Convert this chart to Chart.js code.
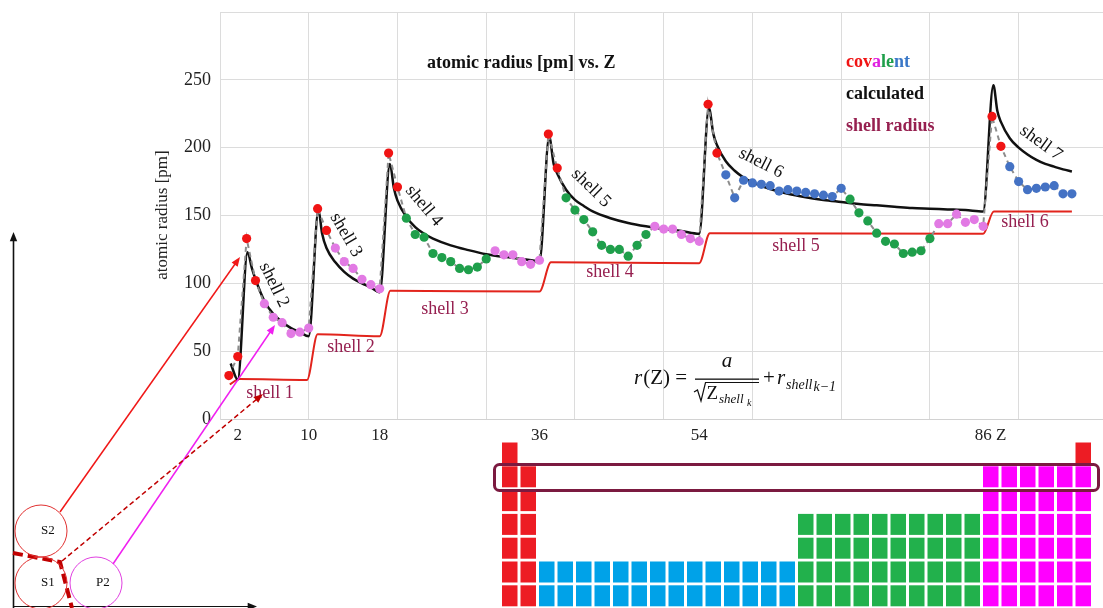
<!DOCTYPE html>
<html>
<head>
<meta charset="utf-8">
<title>atomic radius [pm] vs. Z</title>
<script src="https://cdn.jsdelivr.net/npm/chart.js@4.4.0/dist/chart.umd.min.js"></script>
<style>
  html, body { margin: 0; padding: 0; background: #fff; overflow: hidden; }
  #wrap { position: relative; width: 1103px; height: 608px; overflow: hidden; }
</style>
</head>
<body>
<div id="wrap"><canvas id="radiusChart" width="1108" height="608"></canvas></div>
<script>
// Elements in order of atomic number Z = 1..96
const elements = ['H','He','Li','Be','B','C','N','O','F','Ne','Na','Mg','Al','Si','P','S','Cl','Ar',
  'K','Ca','Sc','Ti','V','Cr','Mn','Fe','Co','Ni','Cu','Zn','Ga','Ge','As','Se','Br','Kr',
  'Rb','Sr','Y','Zr','Nb','Mo','Tc','Ru','Rh','Pd','Ag','Cd','In','Sn','Sb','Te','I','Xe',
  'Cs','Ba','La','Ce','Pr','Nd','Pm','Sm','Eu','Gd','Tb','Dy','Ho','Er','Tm','Yb','Lu','Hf','Ta','W','Re','Os','Ir','Pt','Au','Hg','Tl','Pb','Bi','Po','At','Rn',
  'Fr','Ra','Ac','Th','Pa','U','Np','Pu','Am','Cm'];

// Covalent radius [pm] of each element
const covalentRadius = [32, 46,
  133, 102, 85, 75, 71, 63, 64, 67,
  155, 139, 126, 116, 111, 103, 99, 96,
  196, 171, 148, 136, 134, 122, 119, 116, 111, 110, 112, 118, 124, 121, 121, 116, 114, 117,
  210, 185, 163, 154, 147, 138, 128, 125, 125, 120, 128, 136, 142, 140, 140, 136, 133, 131,
  232, 196, 180, 163, 176, 174, 173, 172, 168, 169, 168, 167, 166, 165, 164, 170,
  162, 152, 146, 137, 131, 129, 122, 123, 124, 133, 144, 144, 151, 145, 147, 142,
  223, 201, 186, 175, 169, 170, 171, 172, 166, 166];

// Block (s, p, d, f) of each element, one string per period
const blockLayout = ['ss', 'sspppppp', 'sspppppp', 'ssddddddddddpppppp', 'ssddddddddddpppppp',
  'ssffffffffffffffddddddddddpppppp', 'ssffffffff'];

// Calculated curve r(Z) (black line)
const calcZ = [1.2, 2, 3.1, 3.6, 4, 5, 6, 7, 8, 9, 10,
  11.1, 11.5, 12, 13, 14, 15, 16, 17, 18,
  19.15, 19.6, 20, 21, 22, 23, 24, 26, 28, 30, 32, 34, 36,
  37.1, 37.6, 38, 39, 40, 41, 42, 44, 46, 48, 50, 52, 54,
  55.1, 55.6, 56, 57, 58, 59, 60, 62, 64, 66, 68, 70, 72, 74, 76, 78, 80, 82, 84, 86,
  87.15, 87.6, 88, 89, 90, 91, 92, 93, 94, 95, 96];
const calcRadius = [41, 29, 123, 111, 103, 87, 77.5, 71.5, 67, 64, 61,
  154, 137, 126, 115.5, 108.5, 103.5, 100, 97, 93.5,
  188, 170, 161, 149, 141.5, 136.5, 133, 128, 124.5, 121.5, 119.5, 118, 116.5,
  208, 188, 181, 169, 161.5, 157, 153, 148, 144.5, 142, 140, 138.5, 136.5,
  229, 210, 202, 190, 183, 178, 174.5, 169.5, 166, 163.5, 161.5, 160, 158.5, 157.5, 156.5, 155.5, 155, 154.5, 154, 153,
  246, 227, 219, 207, 200, 195, 191, 188, 186, 184, 182.5];

// Shell radius step line (red)
const shellZ = [1.1, 2.2, 9.8, 11, 18, 19.2, 36, 37.3, 54, 55.2, 86, 87.2, 96];
const shellRadius = [25.5, 29.5, 28.8, 62.5, 61, 94.5, 94, 115.5, 114.8, 137, 136.5, 153, 153];

// Tick labels under the plot
const xTickLabels = [2, 10, 18, 36, 54, 86];
const yTickStep = 50;

const blockColors = { s: '#f01414', p: '#e27ae4', d: '#1f9f4b', f: '#4472c4' };
const blocks = blockLayout.join('').split('');

const serif = '"Liberation Serif", "Times New Roman", serif';
const maroon = '#962050';

// Draws an arrow with a filled head
function arrow(c, x1, y1, x2, y2, color, width, dash) {
    const ang = Math.atan2(y2 - y1, x2 - x1);
    const hl = 10;
    c.strokeStyle = color;
    c.lineWidth = width;
    c.setLineDash(dash || []);
    c.beginPath();
    c.moveTo(x1, y1);
    c.lineTo(x2 - Math.cos(ang) * hl * 0.7, y2 - Math.sin(ang) * hl * 0.7);
    c.stroke();
    c.setLineDash([]);
    c.fillStyle = color;
    c.beginPath();
    c.moveTo(x2, y2);
    c.lineTo(x2 - hl * Math.cos(ang - 0.38), y2 - hl * Math.sin(ang - 0.38));
    c.lineTo(x2 - hl * Math.cos(ang + 0.38), y2 - hl * Math.sin(ang + 0.38));
    c.closePath();
    c.fill();
}

// Small periodic table picture below the plot
function drawPeriodicTable(c) {
    const red = '#ed1c24', blue = '#00a2e8', green = '#22b14c', magenta = '#ff00ff';
    const cell = (col, row, color) => {
        c.fillStyle = color;
        c.fillRect(502 + col * 18.5, 442.5 + (row - 1) * 23.8, 15.5, 21);
    };
    for (let r = 1; r <= 7; r++) cell(0, r, red);
    for (let r = 2; r <= 7; r++) cell(1, r, red);
    for (let col = 2; col < 16; col++) for (let r = 6; r <= 7; r++) cell(col, r, blue);
    for (let col = 16; col < 26; col++) for (let r = 4; r <= 7; r++) cell(col, r, green);
    for (let col = 26; col < 32; col++) for (let r = 2; r <= 7; r++) cell(col, r, magenta);
    cell(31, 1, red);

    // Frame around the second row
    c.strokeStyle = '#7b1a40';
    c.lineWidth = 3;
    c.beginPath();
    c.roundRect(494.5, 464.5, 604, 26, 5);
    c.stroke();
}

function drawFormula(c) {
    c.fillStyle = '#111';
    c.strokeStyle = '#111';
    c.textAlign = 'left';
    c.textBaseline = 'alphabetic';
    c.font = `italic 21px ${serif}`;
    c.fillText('r', 634, 384);
    const w = c.measureText('r').width;
    c.font = `21px ${serif}`;
    c.fillText('(Z) =', 634 + w + 1, 384);

    c.font = `italic 21px ${serif}`;
    c.textAlign = 'center';
    c.fillText('a', 727, 367);
    c.fillRect(695, 378.5, 64, 1.3);

    // radical sign
    c.lineWidth = 1.2;
    c.beginPath();
    c.moveTo(694, 392);
    c.lineTo(697.5, 390);
    c.lineTo(701, 401);
    c.lineTo(705.5, 382.5);
    c.lineTo(759, 382.5);
    c.stroke();

    c.textAlign = 'left';
    c.font = `19px ${serif}`;
    c.fillText('Z', 706.5, 399);
    c.font = `italic 13px ${serif}`;
    c.fillText('shell', 719, 403);
    c.font = `italic 10px ${serif}`;
    c.fillText('k', 747, 406);

    c.font = `21px ${serif}`;
    c.fillText('+', 763, 384);
    c.font = `italic 21px ${serif}`;
    c.fillText('r', 777, 384);
    c.font = `italic 14px ${serif}`;
    c.fillText('shell', 786, 389);
    const sw = c.measureText('shell').width;
    c.fillText('k\u22121', 786 + sw + 1, 391);
}

const decorations = {
    id: 'decorations',
    afterDraw(chart) {
        const c = chart.ctx;
        const xs = chart.scales.x;
        c.save();

        drawPeriodicTable(c);

        // x tick labels (aligned to Z)
        c.font = `17px ${serif}`;
        c.fillStyle = '#222';
        c.textAlign = 'center';
        c.textBaseline = 'middle';
        xTickLabels.forEach(z => c.fillText(String(z), xs.getPixelForValue(z), 436));
        c.fillText('Z', xs.getPixelForValue(xTickLabels[xTickLabels.length - 1]) + 18, 436);

        // y axis title
        c.save();
        c.translate(163, 215);
        c.rotate(-Math.PI / 2);
        c.font = `17px ${serif}`;
        c.fillStyle = '#222';
        c.fillText('atomic radius [pm]', 0, 0);
        c.restore();

        // Title and legend texts
        c.textAlign = 'left';
        c.font = `bold 18px ${serif}`;
        c.fillStyle = '#111';
        c.fillText('atomic radius [pm] vs. Z', 427, 63);
        const covColors = ['#f01414', '#f01414', '#f01414', '#e020e0', '#1f9f4b', '#1f9f4b', '#3a78c8', '#3a78c8'];
        let lx = 846;
        'covalent'.split('').forEach((ch, i) => {
            c.fillStyle = covColors[i];
            c.fillText(ch, lx, 62);
            lx += c.measureText(ch).width;
        });
        c.fillStyle = '#111';
        c.fillText('calculated', 846, 94);
        c.fillStyle = maroon;
        c.fillText('shell radius', 846, 126);

        // Shell labels on the red line
        c.textAlign = 'center';
        c.font = `18px ${serif}`;
        c.fillStyle = maroon;
        [['shell 1', 270, 393], ['shell 2', 351, 347], ['shell 3', 445, 309],
         ['shell 4', 610, 272], ['shell 5', 796, 246], ['shell 6', 1025, 222]]
            .forEach(([t, x, y]) => c.fillText(t, x, y));

        // Rotated shell labels along the black curve
        c.fillStyle = '#111';
        [['shell 2', 274, 285, 64], ['shell 3', 346, 235, 60], ['shell 4', 424, 206, 50],
         ['shell 5', 591, 188, 44], ['shell 6', 761, 163, 27], ['shell 7', 1041, 143, 36]]
            .forEach(([t, x, y, a]) => {
                c.save();
                c.translate(x, y);
                c.rotate(a * Math.PI / 180);
                c.fillText(t, 0, 0);
                c.restore();
            });

        drawFormula(c);

        // Left sketch: axes, shells and orbitals
        arrow(c, 13.5, 608, 13.5, 232, '#111', 1.6);
        arrow(c, 13.5, 606.5, 257, 606.5, '#111', 1.2);

        c.strokeStyle = '#c00000';
        c.lineWidth = 4;
        c.setLineDash([10, 5]);
        c.beginPath();
        c.moveTo(13, 553);
        c.lineTo(60, 562);
        c.lineTo(72, 608);
        c.stroke();
        c.setLineDash([]);

        c.lineWidth = 1;
        [[41, 531, '#e03030'], [41, 583, '#e03030'], [96, 583, '#e040e0']].forEach(([x, y, col]) => {
            c.strokeStyle = col;
            c.beginPath();
            c.arc(x, y, 26, 0, Math.PI * 2);
            c.stroke();
        });
        c.font = `13px ${serif}`;
        c.fillStyle = '#111';
        c.textBaseline = 'middle';
        [[41, 531, 'S2'], [41, 583, 'S1'], [96, 583, 'P2']].forEach(([x, y, t]) => c.fillText(t, x, y));

        arrow(c, 60, 512, 240, 257, '#f01818', 1.5);
        arrow(c, 113, 564, 275, 325, '#f020f0', 1.5);
        arrow(c, 62, 561, 263, 394, '#c00000', 1.5, [5, 3]);

        c.restore();
    }
};

const ctx = document.getElementById('radiusChart').getContext('2d');
new Chart(ctx, {
    type: 'line',
    data: {
        datasets: [
            {
                label: 'covalent',
                data: covalentRadius.map((r, i) => ({ x: i + 1, y: r })),
                borderColor: '#8c8c8c',
                borderWidth: 2,
                borderDash: [5, 4],
                tension: 0,
                pointRadius: 4.6,
                pointBorderWidth: 0,
                pointBackgroundColor: blocks.map(b => blockColors[b]),
                order: 0
            },
            {
                label: 'calculated',
                data: calcZ.map((z, i) => ({ x: z, y: calcRadius[i] })),
                borderColor: '#111',
                borderWidth: 2.5,
                pointRadius: 0,
                cubicInterpolationMode: 'monotone',
                order: 1
            },
            {
                label: 'shell radius',
                data: shellZ.map((z, i) => ({ x: z, y: shellRadius[i] })),
                borderColor: '#e2241c',
                borderWidth: 2,
                pointRadius: 0,
                cubicInterpolationMode: 'monotone',
                order: 2
            }
        ]
    },
    options: {
        responsive: false,
        animation: false,
        devicePixelRatio: 1,
        layout: { padding: { top: 12, left: 0, right: 0, bottom: 0 } },
        plugins: { legend: { display: false }, tooltip: { enabled: false } },
        scales: {
            x: {
                type: 'linear',
                min: 0,
                max: 99.55,
                ticks: { display: false, stepSize: 10 },
                grid: {
                    color: g => (g.tick && g.tick.value % 10 === 0 ? '#dcdcdc' : 'rgba(0,0,0,0)'),
                    drawTicks: false
                },
                border: { color: '#d2d2d2' },
                afterFit: s => { s.height = 189; }
            },
            y: {
                min: 0,
                max: 300,
                ticks: {
                    stepSize: yTickStep,
                    padding: 9,
                    color: '#222',
                    // small lineHeight keeps the label padding from pushing the plot top down
                    font: { family: serif, size: 18, lineHeight: 0.3 },
                    callback: v => (v === 300 ? '' : v)
                },
                grid: { color: '#dcdcdc', drawTicks: false },
                border: { color: '#dcdcdc' },
                afterFit: s => { s.width = 220; }
            }
        }
    },
    plugins: [decorations]
});
</script>
</body>
</html>
